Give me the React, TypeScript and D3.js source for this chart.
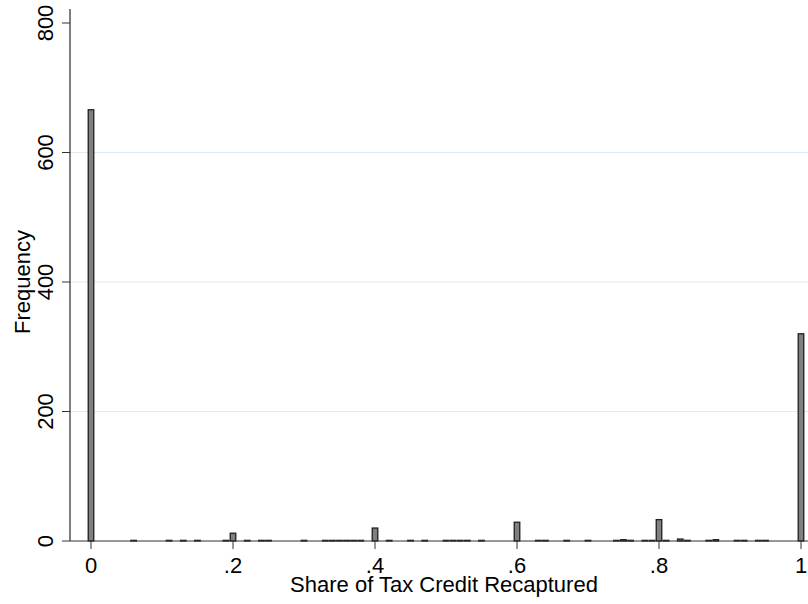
import React from "react";
import * as d3 from "d3";

const values = [0, 0.06, 0.11, 0.13, 0.15, 0.19, 0.2, 0.22, 0.24, 0.25, 0.3, 0.33, 0.34, 0.35, 0.36, 0.37, 0.38, 0.4, 0.42, 0.45, 0.47, 0.5, 0.51, 0.52, 0.53, 0.55, 0.6, 0.63, 0.64, 0.67, 0.7, 0.74, 0.75, 0.76, 0.78, 0.79, 0.8, 0.81, 0.83, 0.84, 0.87, 0.88, 0.91, 0.92, 0.94, 0.95, 1];
const counts = [666, 1, 1, 1, 1, 1, 12, 1, 1, 1, 1, 1, 1, 1, 1, 1, 1, 20, 1, 1, 1, 1, 1, 1, 1, 1, 29, 1, 1, 1, 1, 1, 2, 1, 1, 1, 33, 1, 3, 1, 1, 2, 1, 1, 1, 1, 320];
const xTicks = [0, 0.2, 0.4, 0.6, 0.8, 1];
const xTickLabels = ["0", ".2", ".4", ".6", ".8", "1"];
const yTicks = [0, 200, 400, 600, 800];
const gridTicks = [200, 400, 600];
const xTitle = "Share of Tax Credit Recaptured";
const yTitle = "Frequency";

export default function App() {
  const W = 808, H = 604;
  const x = d3.scaleLinear().domain([0, 1]).range([91, 801]);
  const y = d3.scaleLinear().domain([0, 800]).range([541, 23]);
  const axisX = 70;
  const binW = 0.0078;
  const font = "'Liberation Sans', Arial, Helvetica, sans-serif";
  const data = values.map((v, i) => ({ v, c: counts[i] }));
  return (
    <svg width={W} height={H} style={{ position: "absolute", left: 0, top: 0, background: "#fff" }} fontFamily={font}>
      <rect x={0} y={0} width={W} height={H} fill="#fff" />
      {gridTicks.map((t) => (
        <line key={t} x1={axisX} x2={W} y1={y(t)} y2={y(t)} stroke="#dcebf2" strokeWidth={1} />
      ))}
      {data.map((d, i) => (
        <rect key={i} x={x(d.v - binW / 2)} width={x(binW) - x(0)} y={y(d.c)} height={y(0) - y(d.c)}
          fill="#808080" stroke="#1e1e1e" strokeWidth={1.3} />
      ))}
      <line x1={axisX} x2={axisX} y1={9} y2={y(0)} stroke="#000" strokeWidth={1} />
      <line x1={axisX} x2={W} y1={y(0)} y2={y(0)} stroke="#333" strokeWidth={1} />
      {yTicks.map((t) => (
        <g key={t}>
          <line x1={axisX - 8} x2={axisX} y1={y(t)} y2={y(t)} stroke="#333" strokeWidth={1} />
          <text transform={`translate(53,${y(t)}) rotate(-90)`} textAnchor="middle" fontSize={22} fill="#000">{t}</text>
        </g>
      ))}
      {xTicks.map((t, i) => (
        <g key={t}>
          <line x1={x(t)} x2={x(t)} y1={y(0)} y2={y(0) + 8} stroke="#333" strokeWidth={1} />
          <text x={x(t)} y={573} textAnchor="middle" fontSize={22} fill="#000">{xTickLabels[i]}</text>
        </g>
      ))}
      <text x={444} y={592} textAnchor="middle" fontSize={22} fill="#000">{xTitle}</text>
      <text transform={`translate(30,282) rotate(-90)`} textAnchor="middle" fontSize={22} fill="#000">{yTitle}</text>
    </svg>
  );
}
